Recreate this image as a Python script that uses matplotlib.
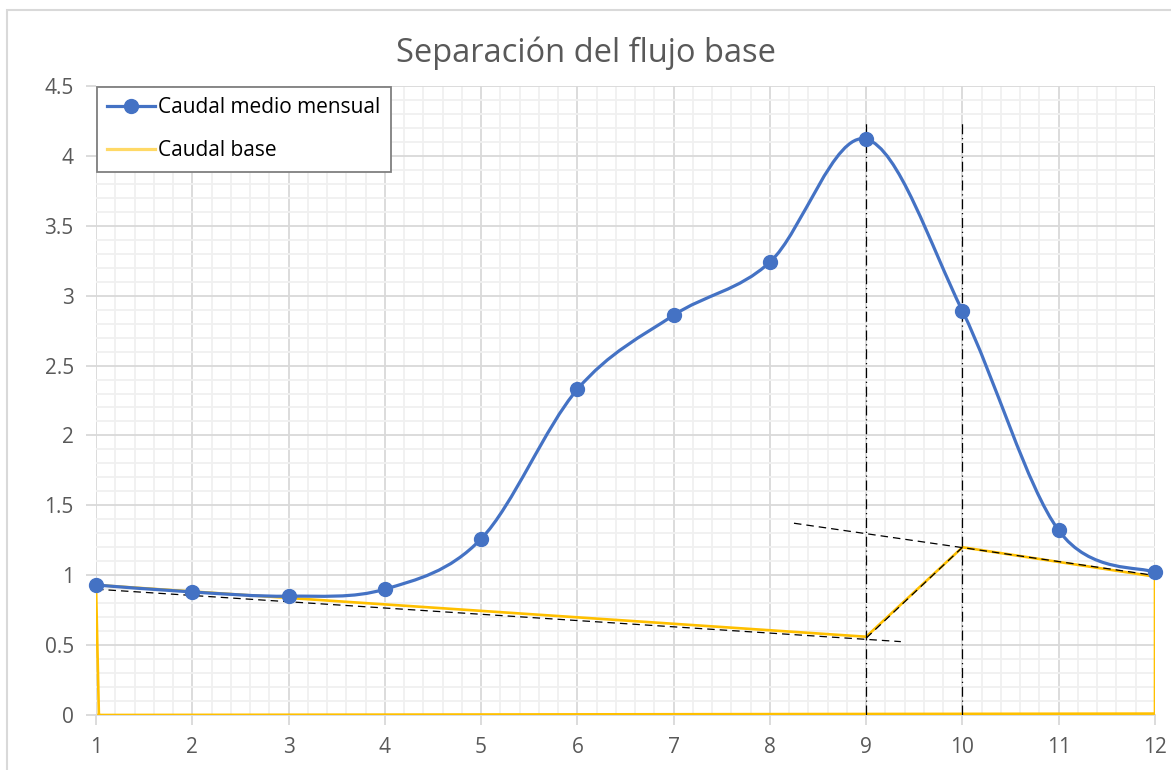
import numpy as np
import matplotlib
matplotlib.use("Agg")
import matplotlib.pyplot as plt
from matplotlib.path import Path
from matplotlib.patches import PathPatch, Rectangle
from matplotlib.lines import Line2D
from matplotlib.ticker import MultipleLocator

# -------------------------------------------------------
# Datos
# -------------------------------------------------------

meses = [1, 2, 3, 4, 5, 6, 7, 8, 9, 10, 11, 12]
caudal_medio = [0.93, 0.88, 0.85, 0.90, 1.26, 2.33, 2.86, 3.24, 4.12, 2.89, 1.32, 1.02]

# contorno del caudal base
base_x = [1.03, 1, 9, 10, 12, 12, 1.03]
base_y = [0.0, 0.93, 0.56, 1.20, 0.99, 0.01, 0.0]

# rectas de recesión (trazo discontinuo)
recta1_x = [1, 9.36]
recta1_y = [0.90, 0.525]
recta2_x = [8.25, 12.13]
recta2_y = [1.372, 0.985]
recta3_x = [9, 10]
recta3_y = [0.55, 1.20]

# verticales en el pico y en el fin de la escorrentía
verticales = [9, 10]
vert_top = 4.25

AZUL = "#4472C4"
AMARILLO = "#FFC000"
GRIS = "#595959"
FUENTE = "Open Sans"

plt.rcParams["font.family"] = [FUENTE, "DejaVu Sans"]


def curva_suave(x, y):
    """Curva tipo Excel (Catmull-Rom como Bezier cúbica)."""
    p = np.column_stack([x, y]).astype(float)
    pts = np.vstack([p[0], p, p[-1]])
    verts = [p[0]]
    codes = [Path.MOVETO]
    for i in range(1, len(pts) - 2):
        p0, p1, p2, p3 = pts[i - 1], pts[i], pts[i + 1], pts[i + 2]
        c1 = p1 + (p2 - p0) / 6.0
        c2 = p2 - (p3 - p1) / 6.0
        verts += [c1, c2, p2]
        codes += [Path.CURVE4] * 3
    return Path(verts, codes)


# -------------------------------------------------------
# Gráfico
# -------------------------------------------------------

fig = plt.figure(figsize=(11.71, 7.70), dpi=100)
ax = fig.add_axes([96 / 1171, 1 - 715 / 770, (1155 - 96) / 1171, (715 - 86) / 770])

# marco exterior del gráfico
fig.patches.append(Rectangle((7 / 1171, -0.1), 1.2, 1 - 10 / 770 + 0.1,
                             transform=fig.transFigure, fill=False,
                             edgecolor="#D9D9D9", linewidth=1.5))

ax.set_xlim(1, 12)
ax.set_ylim(0, 4.5)
ax.xaxis.set_major_locator(MultipleLocator(1))
ax.xaxis.set_minor_locator(MultipleLocator(0.2))
ax.yaxis.set_major_locator(MultipleLocator(0.5))
ax.yaxis.set_minor_locator(MultipleLocator(0.1))
ax.grid(which="major", color="#D9D9D9", linewidth=1.3)
ax.grid(which="minor", color="#F0F0F0", linewidth=1.3)
ax.set_axisbelow(True)

for lado in ["top", "right", "left"]:
    ax.spines[lado].set_visible(False)
ax.spines["bottom"].set_color("#D9D9D9")
ax.spines["bottom"].set_linewidth(1.3)

ax.tick_params(which="major", length=7, width=1.3, color="#D9D9D9",
               labelcolor=GRIS, labelsize=15)
ax.tick_params(axis="x", which="major", pad=9)
ax.tick_params(axis="y", which="major", pad=9)
ax.tick_params(which="minor", length=0)
ax.set_xticks(meses)
ax.set_xticklabels([str(m) for m in meses])
ax.set_yticks(np.arange(0, 4.51, 0.5))
ax.set_yticklabels(["0", "0.5", "1", "1.5", "2", "2.5", "3", "3.5", "4", "4.5"])

# caudal base
ax.plot(base_x, base_y, color=AMARILLO, linewidth=1.9, zorder=3)

# rectas auxiliares
for rx, ry in [(recta1_x, recta1_y), (recta2_x, recta2_y), (recta3_x, recta3_y)]:
    ax.plot(rx, ry, color="black", linestyle=(0, (6, 4)), linewidth=0.9, zorder=4)
for xv in verticales:
    ax.plot([xv, xv], [0, vert_top], color="black", linestyle=(0, (8, 3, 1, 3)),
            linewidth=0.9, zorder=4)

# caudal medio mensual (línea suavizada)
ax.add_patch(PathPatch(curva_suave(meses, caudal_medio), facecolor="none",
                       edgecolor=AZUL, linewidth=2.3, zorder=5))
ax.plot(meses, caudal_medio, linestyle="none", marker="o", markersize=10,
        color=AZUL, zorder=6, clip_on=False)

fig.text(0.5, 1 - 53 / 770, "Separación del flujo base", fontsize=23.5,
         color=GRIS, ha="center", va="center")

handles = [
    Line2D([], [], color=AZUL, linewidth=2.3, marker="o", markersize=10),
    Line2D([], [], color="#FFD966", linewidth=2.3),
]
leg = ax.legend(handles, ["Caudal medio mensual", "Caudal base"],
                loc="upper left", bbox_to_anchor=(0, 1), borderaxespad=0.05,
                fontsize=15, fancybox=False, framealpha=1, handlelength=2.3,
                handletextpad=0.15, labelspacing=1.05, borderpad=0.5)
leg.get_frame().set_edgecolor("#7F7F7F")
leg.get_frame().set_linewidth(1.3)

fig.savefig("out.png", dpi=100)
